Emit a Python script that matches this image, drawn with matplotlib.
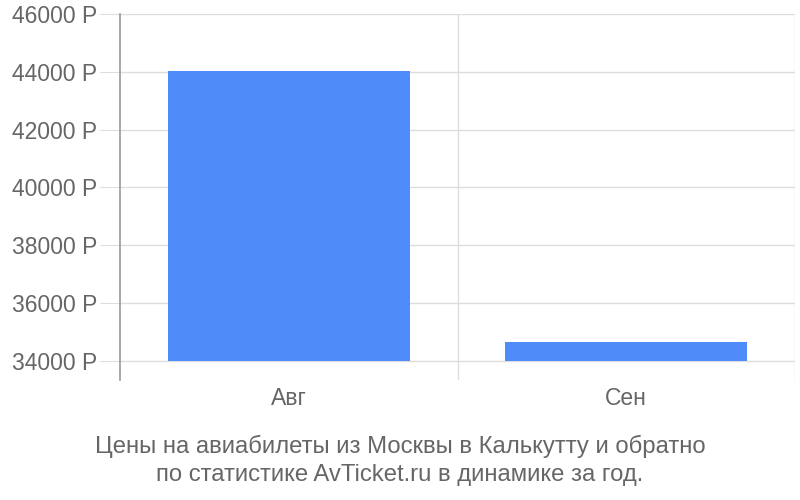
import matplotlib
matplotlib.use("Agg")
import matplotlib.pyplot as plt

plt.rcParams['font.family'] = ['Liberation Sans', 'DejaVu Sans']

categories = ["Авг", "Сен"]
prices = [44030, 34660]
yticks = [34000, 36000, 38000, 40000, 42000, 44000, 46000]
base = 34000

fig = plt.figure(figsize=(8, 5), dpi=100)
ax = fig.add_axes([0.15, 0.24, 0.84375, 0.732])

x = list(range(len(categories)))
ax.bar(x, [p - base for p in prices], bottom=base, width=0.717, color="#4F8BF9", zorder=3)

ax.set_xlim(-0.5, len(categories) - 0.5)
ax.set_ylim(33340, 46000)
ax.set_yticks(yticks)
ax.set_yticklabels([f"{v} Р" for v in yticks])
ax.set_xticks(x)
ax.set_xticklabels(categories)

ax.grid(axis='y', color="#dddddd", linewidth=1, zorder=0)
for xv in [0.5, 1.5]:
    ax.axvline(xv, color="#dddddd", linewidth=1, zorder=0)

for s in ['top', 'right', 'bottom']:
    ax.spines[s].set_visible(False)
ax.spines['left'].set_color("#999999")
ax.spines['left'].set_linewidth(1.2)

ax.tick_params(axis='y', length=14.4, color="#dddddd", pad=2, labelsize=16.5, labelcolor="#666666")
ax.tick_params(axis='x', length=0, pad=5, labelsize=16.5, labelcolor="#666666")

fig.text(0.5, 0.107, "Цены на авиабилеты из Москвы в Калькутту и обратно",
         ha='center', va='center', fontsize=17.2, color="#666666")
fig.text(0.5, 0.05, "по статистике AvTicket.ru в динамике за год.",
         ha='center', va='center', fontsize=17.2, color="#666666")

fig.savefig("out.png", dpi=100)
